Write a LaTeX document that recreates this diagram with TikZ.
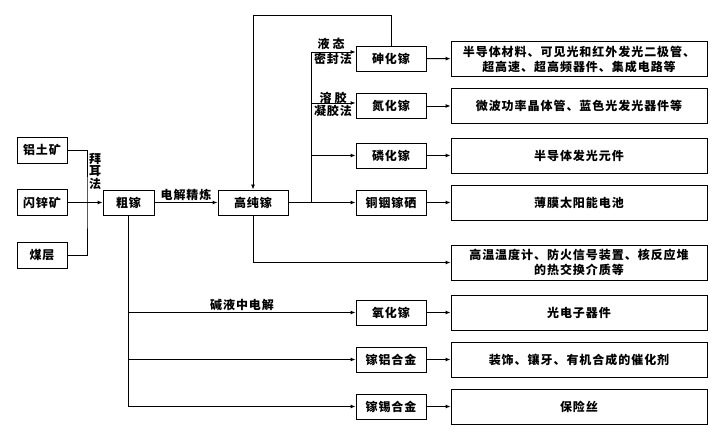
\documentclass[tikz,border=0pt]{standalone}
\usepackage{fontspec}
\newfontfamily\cjk{Noto Sans CJK SC}[LetterSpace=8]
\usetikzlibrary{arrows.meta, positioning, calc}

\begin{document}
\begin{tikzpicture}[x=1pt,y=-1pt,
  ln/.style={line width=0.9pt},
  arr/.style={ln, -{Latex[length=5pt,width=4pt]}},
  box/.style={draw, ln, inner sep=0pt, align=center, font=\cjk\bfseries\fontsize{12}{15}\selectfont},
  orebox/.style={box, minimum width=50pt, minimum height=26pt},
  prodbox/.style={box, minimum width=70pt, minimum height=25pt},
  appbox/.style={box, minimum width=256pt, minimum height=35pt},
  lbl/.style={inner sep=0pt, align=center, font=\cjk\bfseries\fontsize{12}{12.5}\selectfont}]
\useasboundingbox (0,0) rectangle (722,435);
% ores
\node[orebox] (bauxite) at (42,150) {铝土矿};
\node[orebox] (zinc) at (42,202.5) {闪锌矿};
\node[orebox] (coal) at (42,255.5) {煤层};
% gallium
\node[prodbox, minimum width=51pt] (crude) at (128.5,202.5) {粗镓};
\node[prodbox] (pure) at (253,202.5) {高纯镓};
% compounds and alloys
\node[prodbox] (gaas) at (391,58.5) {砷化镓};
\node[prodbox] (gan) at (391,106) {氮化镓};
\node[prodbox] (gap) at (391,155.5) {磷化镓};
\node[prodbox] (cigs) at (391,202.5) {铜铟镓硒};
\node[prodbox] (gao) at (391,312.5) {氧化镓};
\node[prodbox] (gaal) at (391,359.5) {镓铝合金};
\node[prodbox] (gasn) at (391,406.5) {镓锡合金};
% applications
\node[appbox] (app1) at (579,59) {半导体材料、可见光和红外发光二极管、\\超高速、超高频器件、集成电路等};
\node[appbox] (app2) at (579,106) {微波功率晶体管、蓝色光发光器件等};
\node[appbox] (app3) at (579,155.5) {半导体发光元件};
\node[appbox] (app4) at (579,202.5) {薄膜太阳能电池};
\node[appbox] (app5) at (579,262.5) {高温温度计、防火信号装置、核反应堆\\的热交换介质等};
\node[appbox] (app6) at (579,312.5) {光电子器件};
\node[appbox] (app7) at (579,359.5) {装饰、镶牙、有机合成的催化剂};
\node[appbox] (app8) at (579,406.5) {保险丝};

% ores -> crude
\coordinate (bayer) at (87,202.5);
\draw[ln] (bauxite) -| (bayer) |- (coal);
\draw[arr] (zinc) -- (crude);
\node[lbl] (bayerlbl) at (95,171) {拜\\耳\\法};
\draw[arr] (crude) -- node[lbl, above=1.5pt] (refine) {电解精炼} (pure);

% pure -> compounds
\coordinate (split) at (311,202.5);
\coordinate (liq) at (311,52);
\coordinate (sol) at (311,103);
\draw[ln] (pure) -- (split) -- (liq);
\draw[arr] (split) -- (cigs);
\draw[arr] (split |- gap) -- (gap);
\draw[arr] (liq) -- (liq -| gaas.west);
\draw[arr] (sol) -- (sol -| gan.west);
\node[lbl] (liqtop) at (331,43.5) {液\hspace{3pt}态};
\node[lbl] (liqbot) at (333,58.5) {密封法};
\node[lbl] (soltop) at (333,97.5) {溶\hspace{3pt}胶};
\node[lbl] (solbot) at (333,110.5) {凝胶法};
\coordinate (loop) at (253,15);
\draw[arr] (gaas.north) |- (loop) -- (pure.north);
\draw[arr] (pure.south) |- (app5.west);

% crude -> oxide and alloys
\draw[arr] (crude.south) |- (gasn);
\draw[arr] (crude.south |- gaal) -- (gaal);
\draw[arr] (crude.south |- gao) -- node[lbl, above=1.5pt] (alkali) {碱液中电解} (gao);

% products -> applications
\foreach \a/\b in {gaas/app1, gan/app2, gap/app3, cigs/app4, gao/app6, gaal/app7, gasn/app8}
  \draw[arr] (\a) -- (\b);
\end{tikzpicture}
\end{document}
